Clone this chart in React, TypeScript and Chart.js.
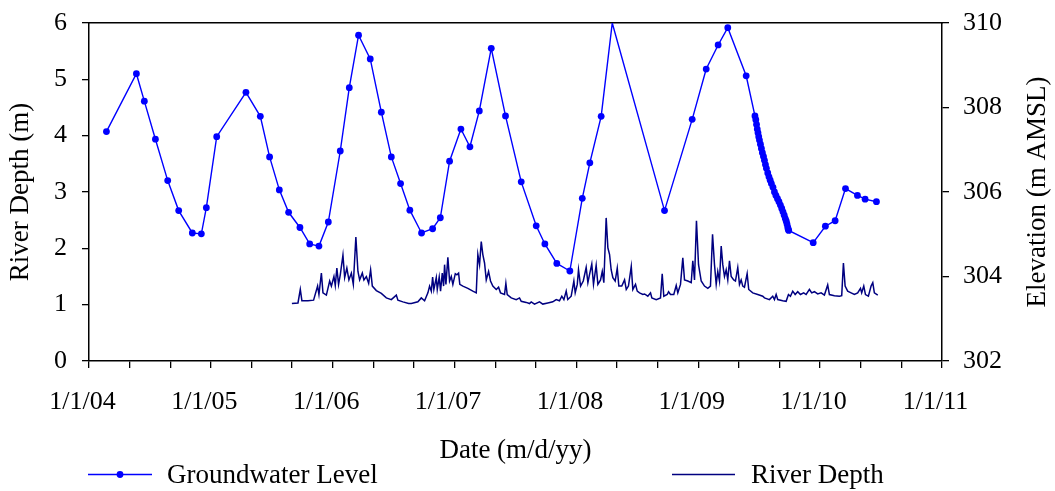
import React, { useEffect, useRef } from "react";
import { Chart, registerables } from "chart.js";

Chart.register(...registerables);

const FONT = '"Liberation Serif", "Times New Roman", Times, serif';

// ---------- data ----------
const xTickLabels = ["1/1/04", "1/1/05", "1/1/06", "1/1/07", "1/1/08", "1/1/09", "1/1/10", "1/1/11"];
const xStartYear = 2004;
const xEndYear = 2011;

const seriesLabels = ["Groundwater Level", "River Depth"];
const axisTitles = { x: "Date (m/d/yy)", left: "River Depth (m)", right: "Elevation (m AMSL)" };

// Groundwater level: dates as decimal years, elevation in m AMSL
const gwYears = [
  2004.143, 2004.389, 2004.454, 2004.545, 2004.646, 2004.736, 2004.848, 2004.922, 2004.963, 2005.048,
  2005.288, 2005.406, 2005.482, 2005.562, 2005.638, 2005.731, 2005.811, 2005.887, 2005.964, 2006.062,
  2006.136, 2006.212, 2006.308, 2006.399, 2006.481, 2006.557, 2006.633, 2006.729, 2006.820, 2006.883,
  2006.959, 2007.052, 2007.126, 2007.203, 2007.301, 2007.418, 2007.547, 2007.670, 2007.741, 2007.839,
  2007.946, 2008.048, 2008.110, 2008.203, 2008.294, 2008.723, 2008.950, 2009.065, 2009.163, 2009.242,
  2009.393,
  2009.465, 2009.472, 2009.478, 2009.484, 2009.490, 2009.496, 2009.502, 2009.510, 2009.518, 2009.526,
  2009.535, 2009.543, 2009.551, 2009.559, 2009.570, 2009.580, 2009.590, 2009.600, 2009.613, 2009.625,
  2009.637, 2009.650, 2009.662, 2009.674, 2009.685, 2009.695, 2009.705, 2009.714, 2009.722, 2009.728,
  2009.734, 2009.738, 2009.742,
  2009.943, 2010.043, 2010.123, 2010.208, 2010.306, 2010.369, 2010.462,
];
const gwElevation = [
  307.43, 308.80, 308.15, 307.25, 306.27, 305.56, 305.03, 305.01, 305.63, 307.31,
  308.36, 307.79, 306.83, 306.05, 305.52, 305.16, 304.77, 304.72, 305.29, 306.97,
  308.47, 309.71, 309.15, 307.89, 306.83, 306.20, 305.57, 305.03, 305.13, 305.39,
  306.73, 307.49, 307.07, 307.92, 309.40, 307.80, 306.24, 305.20, 304.77, 304.31,
  304.13, 305.85, 306.69, 307.79, 310.00, 305.56, 307.72, 308.91, 309.48, 309.89,
  308.75,
  307.80, 307.71, 307.60, 307.49, 307.40, 307.31, 307.23, 307.13, 307.03, 306.93,
  306.84, 306.75, 306.65, 306.56, 306.45, 306.36, 306.28, 306.20, 306.11, 306.00,
  305.92, 305.84, 305.77, 305.69, 305.61, 305.53, 305.45, 305.37, 305.31, 305.24,
  305.17, 305.12, 305.09,
  304.80, 305.19, 305.32, 306.08, 305.92, 305.83, 305.77,
];

// River depth: dates as decimal years, depth in m
const riverYears = [
  2005.665, 2005.715, 2005.734, 2005.747, 2005.797, 2005.843, 2005.876, 2005.887, 2005.907, 2005.920,
  2005.948, 2005.975, 2005.989, 2006.010, 2006.021, 2006.034, 2006.048, 2006.062, 2006.084, 2006.098,
  2006.116, 2006.133, 2006.153, 2006.169, 2006.190, 2006.207, 2006.221, 2006.243, 2006.256, 2006.276,
  2006.295, 2006.311, 2006.325, 2006.358, 2006.399, 2006.440, 2006.481, 2006.522, 2006.535, 2006.576,
  2006.623, 2006.645, 2006.699, 2006.727, 2006.754, 2006.781, 2006.795, 2006.809, 2006.820, 2006.830,
  2006.850, 2006.858, 2006.874, 2006.885, 2006.899, 2006.910, 2006.918, 2006.929, 2006.945, 2006.959,
  2006.973, 2006.986, 2007.006, 2007.019, 2007.033, 2007.043, 2007.068, 2007.109, 2007.150, 2007.178,
  2007.191, 2007.205, 2007.219, 2007.232, 2007.246, 2007.260, 2007.279, 2007.295, 2007.314, 2007.342,
  2007.361, 2007.377, 2007.410, 2007.421, 2007.432, 2007.465, 2007.506, 2007.533, 2007.547, 2007.588,
  2007.615, 2007.629, 2007.656, 2007.697, 2007.724, 2007.765, 2007.806, 2007.834, 2007.861, 2007.880,
  2007.897, 2007.916, 2007.929, 2007.957, 2007.979, 2007.990, 2008.007, 2008.017, 2008.034, 2008.056,
  2008.080, 2008.094, 2008.107, 2008.126, 2008.140, 2008.162, 2008.176, 2008.198, 2008.212, 2008.225,
  2008.244, 2008.258, 2008.272, 2008.285, 2008.299, 2008.318, 2008.335, 2008.348, 2008.372, 2008.395,
  2008.409, 2008.427, 2008.450, 2008.463, 2008.485, 2008.499, 2008.518, 2008.545, 2008.559, 2008.586,
  2008.608, 2008.619, 2008.655, 2008.690, 2008.704, 2008.717, 2008.745, 2008.756, 2008.772, 2008.799,
  2008.819, 2008.832, 2008.854, 2008.873, 2008.887, 2008.914, 2008.942, 2008.955, 2008.969, 2008.985,
  2009.002, 2009.024, 2009.051, 2009.078, 2009.100, 2009.117, 2009.133, 2009.147, 2009.160, 2009.174,
  2009.188, 2009.201, 2009.215, 2009.229, 2009.242, 2009.256, 2009.270, 2009.291, 2009.305, 2009.324,
  2009.338, 2009.352, 2009.365, 2009.379, 2009.401, 2009.414, 2009.447, 2009.488, 2009.529, 2009.543,
  2009.584, 2009.611, 2009.625, 2009.639, 2009.652, 2009.693, 2009.721, 2009.740, 2009.756, 2009.775,
  2009.795, 2009.816, 2009.838, 2009.865, 2009.885, 2009.912, 2009.931, 2009.953, 2009.980, 2010.008,
  2010.035, 2010.062, 2010.076, 2010.117, 2010.158, 2010.177, 2010.191, 2010.205, 2010.226, 2010.254,
  2010.281, 2010.308, 2010.331, 2010.341, 2010.358, 2010.372, 2010.396, 2010.418, 2010.432, 2010.445,
  2010.473,
];
const riverDepth = [
  1.02, 1.03, 1.27, 1.07, 1.07, 1.08, 1.33, 1.18, 1.56, 1.21,
  1.17, 1.42, 1.33, 1.50, 1.34, 1.65, 1.36, 1.53, 1.88, 1.48,
  1.65, 1.44, 1.56, 1.36, 2.20, 1.59, 1.44, 1.56, 1.44, 1.50,
  1.38, 1.62, 1.33, 1.25, 1.20, 1.12, 1.09, 1.17, 1.08, 1.05,
  1.02, 1.02, 1.05, 1.12, 1.07, 1.21, 1.33, 1.24, 1.49, 1.27,
  1.48, 1.27, 1.49, 1.24, 1.56, 1.33, 1.71, 1.36, 1.84, 1.42,
  1.50, 1.36, 1.55, 1.53, 1.56, 1.36, 1.33, 1.29, 1.24, 1.21,
  1.89, 1.71, 2.12, 1.89, 1.74, 1.44, 1.59, 1.42, 1.33, 1.27,
  1.31, 1.21, 1.18, 1.38, 1.18, 1.12, 1.09, 1.12, 1.06, 1.04,
  1.02, 1.05, 1.01, 1.05, 1.01, 1.03, 1.05, 1.09, 1.07, 1.15,
  1.09, 1.24, 1.09, 1.15, 1.42, 1.21, 1.36, 1.62, 1.33, 1.42,
  1.66, 1.39, 1.53, 1.72, 1.36, 1.70, 1.36, 1.44, 1.59, 1.39,
  2.54, 2.01, 1.89, 1.62, 1.48, 1.42, 1.65, 1.33, 1.33, 1.44,
  1.27, 1.33, 1.68, 1.27, 1.36, 1.24, 1.21, 1.18, 1.19, 1.15,
  1.21, 1.12, 1.09, 1.12, 1.55, 1.15, 1.18, 1.23, 1.18, 1.18,
  1.34, 1.21, 1.36, 1.83, 1.44, 1.42, 1.39, 1.78, 1.44, 2.49,
  1.71, 1.42, 1.33, 1.29, 1.33, 2.25, 1.71, 1.36, 1.59, 1.42,
  2.04, 1.71, 1.50, 1.62, 1.44, 1.78, 1.50, 1.44, 1.42, 1.66,
  1.36, 1.44, 1.33, 1.31, 1.55, 1.27, 1.21, 1.18, 1.15, 1.12,
  1.09, 1.15, 1.09, 1.18, 1.09, 1.07, 1.06, 1.18, 1.15, 1.24,
  1.18, 1.23, 1.18, 1.21, 1.18, 1.27, 1.21, 1.23, 1.19, 1.21,
  1.17, 1.35, 1.18, 1.16, 1.15, 1.16, 1.74, 1.33, 1.24, 1.21,
  1.18, 1.21, 1.29, 1.21, 1.33, 1.18, 1.15, 1.33, 1.39, 1.21,
  1.17,
];

const depthRange = { min: 0, max: 6, step: 1 };
const elevRange = { min: 302, max: 310, step: 2 };

const GW_COLOR = "#0000ff";
const RIVER_COLOR = "#000080";

// months since Jan 2004 (x axis unit)
const toMonths = (yr: number) => (yr - xStartYear) * 12;

const extrasPlugin = {
  id: "extras",
  afterDraw(chart: any) {
    const ctx = chart.ctx as CanvasRenderingContext2D;
    const area = chart.chartArea;
    ctx.save();
    // right axis title (reads bottom-to-top)
    ctx.fillStyle = "#000";
    ctx.font = `27px ${FONT}`;
    ctx.textAlign = "center";
    ctx.textBaseline = "middle";
    ctx.translate(1038, (area.top + area.bottom) / 2);
    ctx.rotate(-Math.PI / 2);
    ctx.fillText(axisTitles.right, 0, 0);
    ctx.restore();

    // legend
    ctx.save();
    const ly = 474.5;
    ctx.lineWidth = 1.4;
    ctx.strokeStyle = GW_COLOR;
    ctx.beginPath();
    ctx.moveTo(88, ly);
    ctx.lineTo(152, ly);
    ctx.stroke();
    ctx.fillStyle = GW_COLOR;
    ctx.beginPath();
    ctx.arc(120, ly, 3.4, 0, Math.PI * 2);
    ctx.fill();
    ctx.strokeStyle = RIVER_COLOR;
    ctx.beginPath();
    ctx.moveTo(672, ly);
    ctx.lineTo(735, ly);
    ctx.stroke();
    ctx.fillStyle = "#000";
    ctx.font = `27px ${FONT}`;
    ctx.textAlign = "left";
    ctx.textBaseline = "middle";
    ctx.fillText(seriesLabels[0], 167, 476);
    ctx.fillText(seriesLabels[1], 751, 476);
    ctx.restore();
  },
};

const noVerticalPad = (s: any) => {
  s.paddingTop = 0;
  s.paddingBottom = 0;
};

export default function App() {
  const ref = useRef<HTMLCanvasElement>(null);

  useEffect(() => {
    const canvas = ref.current;
    if (!canvas) return;
    const gwData = gwYears.map((yr, i) => ({ x: toMonths(yr), y: gwElevation[i] }));
    const riverData = riverYears.map((yr, i) => ({ x: toMonths(yr), y: riverDepth[i] }));

    const tickFont = { family: FONT, size: 26 };
    const titleFont = { family: FONT, size: 27 };

    const chart = new Chart(canvas, {
      type: "line",
      data: {
        datasets: [
          {
            label: seriesLabels[0],
            data: gwData,
            yAxisID: "y1",
            xAxisID: "x",
            borderColor: GW_COLOR,
            backgroundColor: GW_COLOR,
            borderWidth: 1.4,
            pointRadius: (c: any) => (c.raw && c.raw.y >= elevRange.max ? 0 : 3.4),
            pointBorderWidth: 0,
            pointHoverRadius: 3.4,
            tension: 0,
          },
          {
            label: seriesLabels[1],
            data: riverData,
            yAxisID: "y",
            xAxisID: "x",
            borderColor: RIVER_COLOR,
            backgroundColor: RIVER_COLOR,
            borderWidth: 1.5,
            pointRadius: 0,
            tension: 0,
          },
        ],
      },
      options: {
        animation: false,
        responsive: true,
        maintainAspectRatio: false,
        layout: { padding: { top: 23, bottom: 24, left: 0, right: 0 } },
        plugins: {
          legend: { display: false },
          tooltip: { enabled: false },
        },
        scales: {
          x: {
            type: "linear",
            position: "bottom",
            min: toMonths(xStartYear),
            max: toMonths(xEndYear),
            ticks: {
              stepSize: 4,
              autoSkip: false,
              maxRotation: 0,
              padding: 19,
              labelOffset: -6.5,
              color: "#000",
              font: tickFont,
              callback: (v: any) => {
                const n = Number(v);
                return n % 12 === 0 ? xTickLabels[n / 12] : "";
              },
            },
            grid: { drawOnChartArea: false, drawTicks: true, tickLength: 7, color: "#000", lineWidth: 1.3 },
            border: { display: true, color: "#000", width: 1.5 },
            title: { display: true, text: axisTitles.x, color: "#000", font: titleFont, padding: 0 },
            afterFit: (s: any) => {
              s.height = 106;
              s.paddingLeft = 0;
              s.paddingRight = 0;
            },
          },
          xTop: {
            type: "linear",
            position: "top",
            min: toMonths(xStartYear),
            max: toMonths(xEndYear),
            ticks: { display: false },
            grid: { drawOnChartArea: false, drawTicks: false },
            border: { display: true, color: "#000", width: 1.5 },
            afterFit: (s: any) => {
              s.height = 0;
              s.paddingLeft = 0;
              s.paddingRight = 0;
            },
          },
          y: {
            type: "linear",
            position: "left",
            min: depthRange.min,
            max: depthRange.max,
            ticks: { stepSize: depthRange.step, padding: 15, color: "#000", font: tickFont },
            grid: { drawOnChartArea: false, drawTicks: true, tickLength: 7, color: "#000", lineWidth: 1.3 },
            border: { display: true, color: "#000", width: 1.5 },
            title: { display: true, text: axisTitles.left, color: "#000", font: titleFont, padding: { top: 5, bottom: 0 } },
            afterFit: (s: any) => {
              s.width = 89;
              noVerticalPad(s);
            },
          },
          y1: {
            type: "linear",
            position: "right",
            min: elevRange.min,
            max: elevRange.max,
            ticks: { stepSize: elevRange.step, padding: 14, color: "#000", font: tickFont },
            grid: { drawOnChartArea: false, drawTicks: true, tickLength: 7, color: "#000", lineWidth: 1.3 },
            border: { display: true, color: "#000", width: 1.5 },
            afterFit: (s: any) => {
              s.width = 113;
              noVerticalPad(s);
            },
          },
        },
      },
      plugins: [extrasPlugin],
    } as any);

    return () => chart.destroy();
  }, []);

  return (
    <div style={{ position: "fixed", left: 0, top: 0, width: 1055, height: 491, background: "#fff" }}>
      <canvas ref={ref} />
    </div>
  );
}
